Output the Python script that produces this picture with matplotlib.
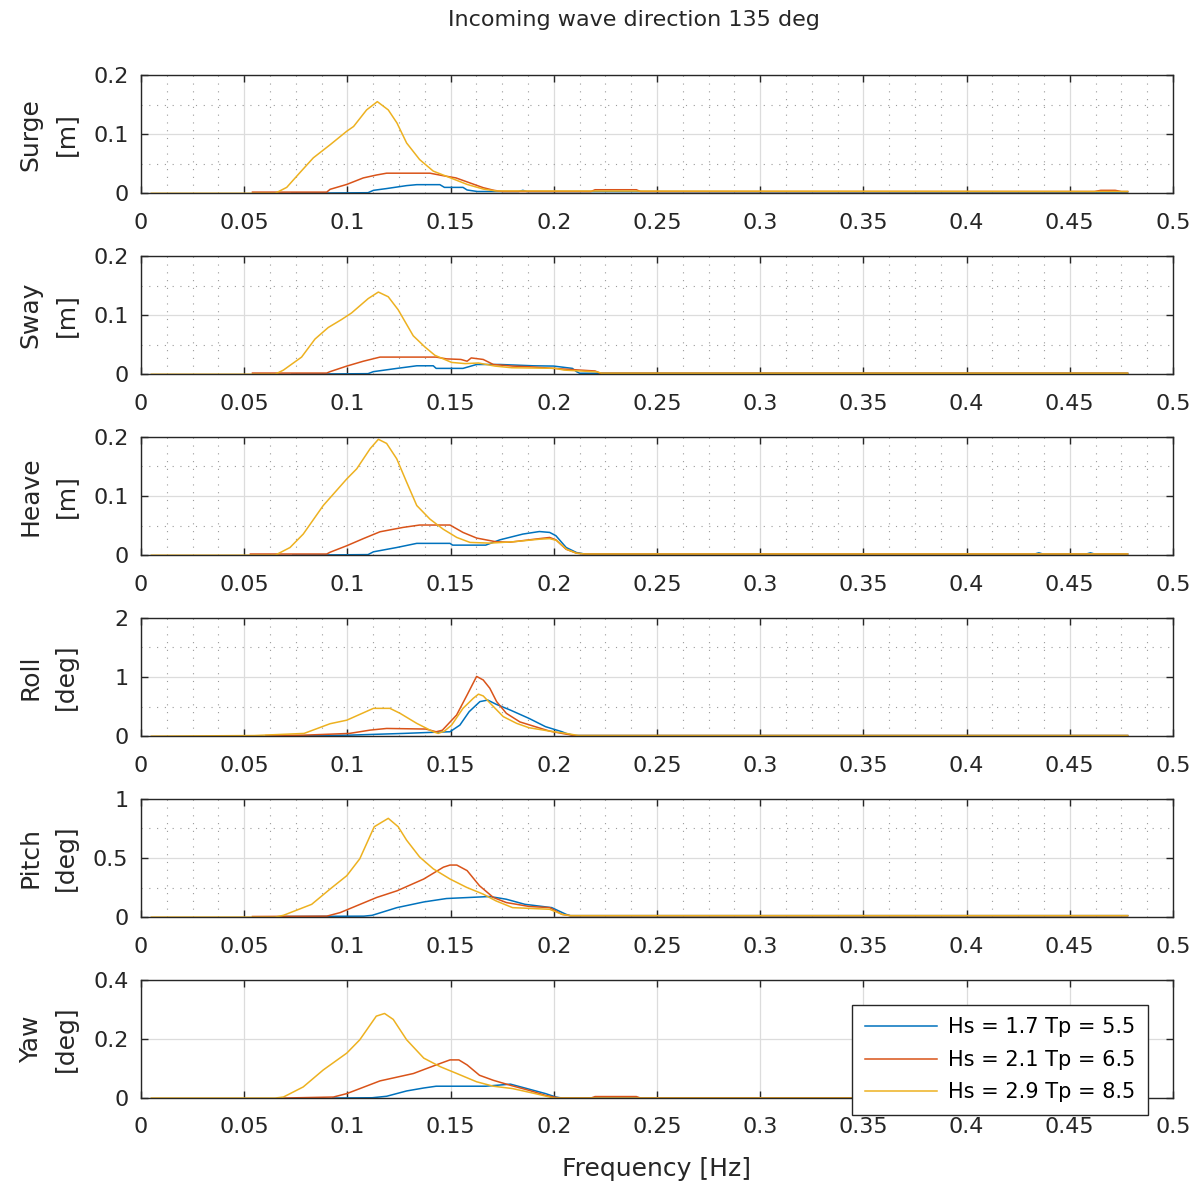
import matplotlib
matplotlib.use("Agg")
import matplotlib.pyplot as plt
from matplotlib.ticker import FixedLocator, FuncFormatter

# wave cases (legend order = plot order)
cases = ["Hs = 1.7 Tp = 5.5", "Hs = 2.1 Tp = 6.5", "Hs = 2.9 Tp = 8.5"]
colors = ["#0072BD", "#D95319", "#EDB120"]

dof_names = ["Surge", "Sway", "Heave", "Roll", "Pitch", "Yaw"]
dof_units = ["[m]", "[m]", "[m]", "[deg]", "[deg]", "[deg]"]
dof_ymax = [0.2, 0.2, 0.2, 2, 1, 0.4]
xticks = [0, 0.05, 0.1, 0.15, 0.2, 0.25, 0.3, 0.35, 0.4, 0.45, 0.5]

# (frequency [Hz], response)
surge_17 = [(0.073, 0.0), (0.110, 0.001), (0.1126, 0.005), (0.119, 0.008), (0.1287, 0.013),
            (0.1336, 0.0146), (0.1448, 0.0146), (0.147, 0.010), (0.156, 0.010), (0.158, 0.0056),
            (0.163, 0.003), (0.183, 0.003), (0.185, 0.005), (0.187, 0.003), (0.478, 0.002)]
surge_21 = [(0.054, 0.002), (0.090, 0.002), (0.0916, 0.0067), (0.0997, 0.015), (0.1077, 0.026),
            (0.1142, 0.031), (0.119, 0.034), (0.140, 0.034), (0.146, 0.030), (0.1526, 0.026),
            (0.159, 0.018), (0.1658, 0.0095), (0.171, 0.005), (0.175, 0.003), (0.218, 0.003),
            (0.220, 0.006), (0.240, 0.006), (0.242, 0.003), (0.462, 0.003), (0.465, 0.005),
            (0.472, 0.005), (0.475, 0.003), (0.478, 0.003)]
surge_29 = [(0.005, 0.0), (0.065, 0.0), (0.0706, 0.010), (0.077, 0.035), (0.0835, 0.060),
            (0.0916, 0.082), (0.0997, 0.105), (0.103, 0.113), (0.1093, 0.141), (0.1145, 0.155),
            (0.1198, 0.141), (0.124, 0.119), (0.1287, 0.085), (0.135, 0.057), (0.1416, 0.0375),
            (0.150, 0.026), (0.158, 0.015), (0.166, 0.007), (0.172, 0.004), (0.478, 0.003)]

sway_17 = [(0.073, 0.0), (0.110, 0.001), (0.1126, 0.0044), (0.124, 0.0099), (0.1336, 0.0143),
           (0.1416, 0.0143), (0.143, 0.0099), (0.156, 0.0099), (0.1626, 0.0165), (0.174, 0.0165),
           (0.190, 0.0143), (0.200, 0.0138), (0.209, 0.0099), (0.211, 0.0044), (0.2125, 0.0017),
           (0.478, 0.0017)]
sway_21 = [(0.054, 0.002), (0.090, 0.002), (0.0916, 0.0044), (0.0997, 0.0138), (0.1077, 0.022),
           (0.1158, 0.029), (0.143, 0.029), (0.148, 0.026), (0.155, 0.025), (0.158, 0.022),
           (0.160, 0.0276), (0.1658, 0.025), (0.1707, 0.0165), (0.180, 0.0138), (0.188, 0.0127),
           (0.2038, 0.009), (0.220, 0.0055), (0.2226, 0.0017), (0.478, 0.0017)]
sway_29 = [(0.005, 0.0), (0.065, 0.0), (0.069, 0.007), (0.0778, 0.029), (0.0843, 0.0595),
           (0.0907, 0.079), (0.0972, 0.0926), (0.102, 0.1036), (0.1101, 0.128), (0.115, 0.139),
           (0.1198, 0.131), (0.1246, 0.109), (0.1319, 0.065), (0.1376, 0.046), (0.1424, 0.032),
           (0.1505, 0.020), (0.157, 0.018), (0.1635, 0.019), (0.1715, 0.0138), (0.1796, 0.011),
           (0.2006, 0.010), (0.205, 0.007), (0.221, 0.004), (0.223, 0.0017), (0.478, 0.0017)]

heave_17 = [(0.0735, 0.0), (0.110, 0.001), (0.1126, 0.0057), (0.1239, 0.013), (0.1336, 0.020),
            (0.1497, 0.020), (0.151, 0.017), (0.167, 0.017), (0.1739, 0.026), (0.185, 0.0357),
            (0.193, 0.040), (0.198, 0.0385), (0.201, 0.033), (0.206, 0.013), (0.211, 0.0045),
            (0.215, 0.002), (0.433, 0.002), (0.435, 0.004), (0.437, 0.002), (0.458, 0.002),
            (0.460, 0.004), (0.462, 0.002), (0.478, 0.002)]
heave_21 = [(0.053, 0.002), (0.090, 0.002), (0.0916, 0.005), (0.0997, 0.016), (0.1077, 0.028),
            (0.1158, 0.0396), (0.127, 0.047), (0.135, 0.051), (0.1497, 0.051), (0.156, 0.0385),
            (0.1626, 0.029), (0.172, 0.0227), (0.1787, 0.022), (0.193, 0.028), (0.198, 0.030),
            (0.201, 0.026), (0.206, 0.010), (0.211, 0.0034), (0.215, 0.002), (0.478, 0.002)]
heave_29 = [(0.005, 0.0), (0.065, 0.0), (0.0722, 0.013), (0.0786, 0.0357), (0.0883, 0.084),
            (0.0997, 0.129), (0.1045, 0.146), (0.111, 0.180), (0.115, 0.196), (0.119, 0.189),
            (0.1239, 0.163), (0.1287, 0.1235), (0.1336, 0.084), (0.140, 0.061), (0.1464, 0.044),
            (0.153, 0.030), (0.1594, 0.0216), (0.169, 0.0204), (0.1803, 0.0227), (0.193, 0.027),
            (0.198, 0.028), (0.2013, 0.025), (0.2062, 0.010), (0.211, 0.0034), (0.215, 0.002),
            (0.478, 0.002)]

roll_17 = [(0.0735, 0.005), (0.101, 0.017), (0.1271, 0.046), (0.140, 0.063), (0.1497, 0.074),
           (0.1545, 0.187), (0.159, 0.414), (0.1642, 0.584), (0.168, 0.61), (0.172, 0.54),
           (0.179, 0.44), (0.188, 0.30), (0.196, 0.16), (0.204, 0.074), (0.206, 0.046),
           (0.210, 0.01), (0.478, 0.01)]
roll_21 = [(0.0605, 0.01), (0.0794, 0.017), (0.101, 0.046), (0.111, 0.102), (0.119, 0.13),
           (0.138, 0.12), (0.143, 0.074), (0.146, 0.10), (0.1529, 0.357), (0.158, 0.697),
           (0.1626, 1.01), (0.1658, 0.95), (0.169, 0.81), (0.1723, 0.584), (0.177, 0.386),
           (0.1836, 0.24), (0.191, 0.16), (0.198, 0.085), (0.204, 0.046), (0.210, 0.01),
           (0.478, 0.01)]
roll_29 = [(0.005, 0.0), (0.055, 0.01), (0.079, 0.046), (0.0916, 0.21), (0.0997, 0.27),
           (0.1126, 0.47), (0.1206, 0.47), (0.1255, 0.386), (0.1336, 0.216), (0.1416, 0.074),
           (0.144, 0.046), (0.147, 0.085), (0.1505, 0.187), (0.156, 0.47), (0.161, 0.64),
           (0.1635, 0.71), (0.1658, 0.68), (0.170, 0.527), (0.1755, 0.33), (0.182, 0.216),
           (0.188, 0.142), (0.198, 0.085), (0.206, 0.046), (0.212, 0.01), (0.478, 0.01)]

pitch_17 = [(0.0685, 0.005), (0.108, 0.008), (0.112, 0.015), (0.124, 0.08), (0.137, 0.128),
            (0.148, 0.157), (0.169, 0.174), (0.177, 0.151), (0.186, 0.108), (0.199, 0.08),
            (0.206, 0.023), (0.208, 0.012), (0.478, 0.012)]
pitch_21 = [(0.054, 0.005), (0.090, 0.008), (0.0965, 0.038), (0.1142, 0.166), (0.124, 0.222),
            (0.137, 0.322), (0.1465, 0.422), (0.1497, 0.44), (0.153, 0.44), (0.158, 0.393),
            (0.164, 0.265), (0.1707, 0.166), (0.177, 0.123), (0.188, 0.09), (0.198, 0.080),
            (0.204, 0.023), (0.208, 0.012), (0.478, 0.012)]
pitch_29 = [(0.005, 0.0), (0.065, 0.0), (0.069, 0.015), (0.0827, 0.108), (0.0916, 0.237),
            (0.0997, 0.35), (0.106, 0.493), (0.113, 0.764), (0.1198, 0.835), (0.1246, 0.764),
            (0.1287, 0.65), (0.135, 0.508), (0.1416, 0.408), (0.1497, 0.322), (0.1578, 0.251),
            (0.1658, 0.194), (0.172, 0.137), (0.180, 0.080), (0.198, 0.066), (0.204, 0.023),
            (0.208, 0.012), (0.478, 0.012)]

yaw_17 = [(0.093, 0.0), (0.112, 0.001), (0.119, 0.006), (0.1287, 0.024), (0.137, 0.034),
          (0.143, 0.04), (0.167, 0.04), (0.179, 0.047), (0.187, 0.032), (0.196, 0.015),
          (0.201, 0.0034), (0.204, 0.0), (0.478, 0.0)]
yaw_21 = [(0.069, 0.0), (0.0932, 0.0034), (0.0997, 0.015), (0.1158, 0.058), (0.132, 0.083),
          (0.143, 0.112), (0.1497, 0.129), (0.154, 0.129), (0.158, 0.112), (0.164, 0.077),
          (0.1707, 0.06), (0.179, 0.043), (0.188, 0.026), (0.196, 0.009), (0.200, 0.0034),
          (0.203, 0.0), (0.218, 0.0), (0.220, 0.005), (0.240, 0.005), (0.242, 0.0), (0.478, 0.0)]
yaw_29 = [(0.005, 0.0), (0.065, 0.0), (0.069, 0.0034), (0.0786, 0.0376), (0.0883, 0.095),
          (0.0997, 0.152), (0.106, 0.197), (0.114, 0.277), (0.118, 0.286), (0.1222, 0.266),
          (0.1287, 0.197), (0.137, 0.135), (0.145, 0.106), (0.153, 0.083), (0.1626, 0.055),
          (0.1707, 0.040), (0.180, 0.032), (0.191, 0.015), (0.198, 0.0034), (0.200, 0.0),
          (0.478, 0.0)]

responses = [
    [surge_17, surge_21, surge_29],
    [sway_17, sway_21, sway_29],
    [heave_17, heave_21, heave_29],
    [roll_17, roll_21, roll_29],
    [pitch_17, pitch_21, pitch_29],
    [yaw_17, yaw_21, yaw_29],
]

plt.rcParams["font.family"] = ["DejaVu Sans"]

fig, axes = plt.subplots(6, 1, figsize=(12, 11.89), dpi=100)
fig.subplots_adjust(left=0.1175, right=0.9775, top=0.9369, bottom=0.0765, hspace=0.53)

fmt = FuncFormatter(lambda v, _: f"{v:g}")

for i, ax in enumerate(axes):
    for series, col, lab in zip(responses[i], colors, cases):
        f = [p[0] for p in series]
        v = [p[1] for p in series]
        ax.plot(f, v, color=col, lw=1.1, label=lab)

    ymax = dof_ymax[i]
    ax.set_xlim(0, 0.5)
    ax.set_ylim(0, ymax)
    ax.xaxis.set_major_locator(FixedLocator(xticks))
    ax.yaxis.set_major_locator(FixedLocator([0, ymax / 2, ymax]))
    ax.xaxis.set_major_formatter(fmt)
    ax.yaxis.set_major_formatter(fmt)
    ax.tick_params(which="major", direction="in", length=5, width=1, colors="#262626",
                   labelsize=16, top=True, right=True)
    ax.tick_params(axis="x", which="major", pad=14)
    ax.tick_params(axis="y", which="major", pad=9)
    ax.tick_params(which="minor", length=0)

    ax.set_axisbelow(True)
    ax.grid(which="major", color="#dcdcdc", lw=0.9)
    # matlab-ish dotted minor grid on all but the last panel
    if i < 5:
        ax.xaxis.set_minor_locator(FixedLocator([k * 0.0125 for k in range(41)]))
        ax.yaxis.set_minor_locator(FixedLocator([ymax / 4, 3 * ymax / 4]))
        ax.grid(which="minor", color="#9a9a9a", lw=0.8, dashes=(1, 6))

    for sp in ax.spines.values():
        sp.set_color("#262626")
        sp.set_linewidth(1.0)

    ax.set_ylabel(f"{dof_names[i]}\n{dof_units[i]}", fontsize=18, linespacing=1.6,
                  color="#262626")
    ax.yaxis.set_label_coords(-0.061, 0.5)

axes[-1].set_xlabel("Frequency [Hz]", fontsize=18, color="#262626", labelpad=14)

fig.text(0.528, 0.983, "Incoming wave direction 135 deg", fontsize=16, ha="center",
         va="center", color="#262626")

leg = axes[-1].legend(loc="upper left", bbox_to_anchor=(0.71, 0.1548),
                      bbox_transform=fig.transFigure, fontsize=15, handlelength=3.5,
                      handletextpad=0.5, fancybox=False, framealpha=1, borderaxespad=0,
                      labelspacing=0.6, borderpad=0.6)
leg.get_frame().set_edgecolor("#262626")
leg.get_frame().set_linewidth(1.0)

fig.savefig("out.png", dpi=100)
